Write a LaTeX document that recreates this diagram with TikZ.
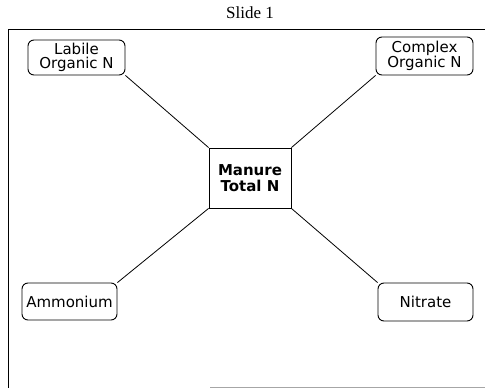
\documentclass[tikz,border=0pt]{standalone}
\usepackage{fontspec}
\setmainfont{Liberation Serif}
\newfontfamily\boxfont{DejaVu Sans}
\begin{document}
\begin{tikzpicture}[x=1pt,y=-1pt,
  nbox/.style={draw, line width=0.9pt, rounded corners=6pt, inner sep=0pt,
    font=\boxfont\fontsize{15}{14.5}\selectfont, align=center},
  hub/.style={draw, line width=0.9pt, inner sep=0pt,
    font=\boxfont\bfseries\fontsize{15}{16}\selectfont, align=center},
  link/.style={line width=0.8pt}]
  \useasboundingbox (0,0) rectangle (485,388);
  % slide frame
  \draw[line width=0.8pt] (8,388) -- (8,29.5) -- (485,29.5);
  \draw[line width=0.6pt, gray!70] (210,387.5) -- (485,387.5);
  % title
  \node (title) at (250,13) {\fontsize{17}{20}\selectfont Slide 1};
  % nodes
  \node[hub, minimum width=82pt, minimum height=60pt] (man) at (250,178) {Manure\\Total N};
  \node[nbox, minimum width=97pt, minimum height=35pt] (lab) at (76.5,57.5) {Labile\\Organic N};
  \node[nbox, minimum width=97pt, minimum height=38pt] (cpx) at (424.5,56) {Complex\\Organic N};
  \node[nbox, minimum width=95pt, minimum height=37pt] (amm) at (69.5,301.5) {Ammonium};
  \node[nbox, minimum width=95pt, minimum height=38pt] (nit) at (425.5,302) {Nitrate};
  % connectors
  \draw[link] (lab.south east) -- (man.north west);
  \draw[link] (cpx.south west) -- (man.north east);
  \draw[link] (amm.north east) -- (man.south west);
  \draw[link] (nit.north west) -- (man.south east);
\end{tikzpicture}
\end{document}
